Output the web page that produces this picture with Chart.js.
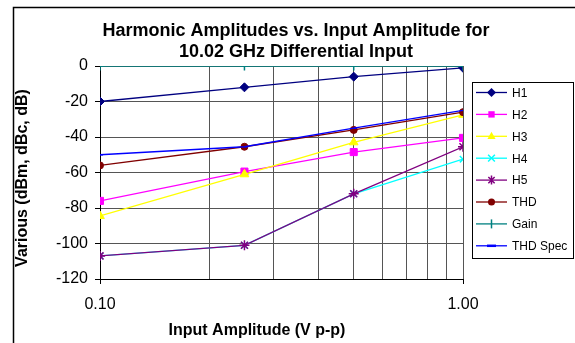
<!DOCTYPE html>
<html><head><meta charset="utf-8">
<script src="https://cdn.jsdelivr.net/npm/chart.js@4/dist/chart.umd.min.js"></script>
<style>html,body{margin:0;padding:0;background:#fff}#wrap{width:575px;height:343px}</style>
</head><body><div id="wrap"><canvas id="c" width="575" height="343"></canvas></div>
<script>
const inputAmplitude = [0.1, 0.25, 0.5, 1.0];
const h1 = [-20, -12, -6, -1];
const h2 = [-76, -59.5, -48.5, -40.5];
const h3 = [-84.5, -61, -43, -27.5];
const h4 = [-107, -101, -72, -52.5];
const h5 = [-107, -101, -72, -45.5];
const thd = [-56, -45.5, -36, -26];
const gain = [0, 0, 0, 0];
const thdSpec = [-50, -45.5, -35, -25];
const seriesNames = ['H1', 'H2', 'H3', 'H4', 'H5', 'THD', 'Gain', 'THD Spec'];
const yTickValues = [0, -20, -40, -60, -80, -100, -120];
const xGridValues = [0.1, 0.2, 0.3, 0.4, 0.5, 0.6, 0.7, 0.8, 0.9, 1.0];
const xTickLabels = {0.1: '0.10', 1: '1.00'};
const titleLines = ['Harmonic Amplitudes vs. Input Amplitude for', '10.02 GHz Differential Input'];
const xTitle = 'Input Amplitude (V p-p)';
const yTitle = 'Various (dBm, dBc, dB)';

const seriesValues = [h1, h2, h3, h4, h5, thd, gain, thdSpec];
const styles = [
  {c: '#000080', p: 'rectRot', r: 4.5},
  {c: '#FF00FF', p: 'rect', r: 5},
  {c: '#FFFF00', p: 'triangle', r: 5},
  {c: '#00FFFF', p: 'crossRot', r: 4.5},
  {c: '#800080', p: 'star', r: 5},
  {c: '#800000', p: 'circle', r: 3.5},
  {c: '#008080', p: 'cross', r: 4.5},
  {c: '#0000FF', p: 'dash', r: 3}
];

const datasets = seriesValues.map((vals, i) => ({
  label: seriesNames[i],
  data: inputAmplitude.map((x, j) => ({x: x, y: vals[j]})),
  borderColor: styles[i].c,
  backgroundColor: styles[i].c,
  pointStyle: styles[i].p,
  pointRadius: styles[i].r,
  pointBorderWidth: (styles[i].p === 'crossRot' || styles[i].p === 'star' || styles[i].p === 'cross' || styles[i].p === 'dash') ? 1.5 : 1,
  borderWidth: 1.3,
  tension: 0,
  fill: false,
  order: 20 - i
}));

function drawMarker(ctx, style, x, y, r, color) {
  ctx.save();
  ctx.fillStyle = color; ctx.strokeStyle = color; ctx.lineWidth = 1.5;
  ctx.beginPath();
  if (style === 'rectRot') { ctx.moveTo(x, y - r); ctx.lineTo(x + r, y); ctx.lineTo(x, y + r); ctx.lineTo(x - r, y); ctx.closePath(); ctx.fill(); }
  else if (style === 'rect') { const s = r * Math.SQRT1_2; ctx.rect(x - s, y - s, 2 * s, 2 * s); ctx.fill(); }
  else if (style === 'triangle') { ctx.moveTo(x, y - r); ctx.lineTo(x + r * 0.9, y + r * 0.6); ctx.lineTo(x - r * 0.9, y + r * 0.6); ctx.closePath(); ctx.fill(); }
  else if (style === 'crossRot') { const s = r * 0.75; ctx.moveTo(x - s, y - s); ctx.lineTo(x + s, y + s); ctx.moveTo(x + s, y - s); ctx.lineTo(x - s, y + s); ctx.stroke(); }
  else if (style === 'star') { const s = r * 0.7; ctx.moveTo(x - s, y - s); ctx.lineTo(x + s, y + s); ctx.moveTo(x + s, y - s); ctx.lineTo(x - s, y + s); ctx.moveTo(x, y - r); ctx.lineTo(x, y + r); ctx.stroke(); }
  else if (style === 'circle') { ctx.arc(x, y, r, 0, Math.PI * 2); ctx.fill(); }
  else if (style === 'cross') { ctx.moveTo(x, y - r); ctx.lineTo(x, y + r); ctx.stroke(); }
  else if (style === 'dash') { ctx.lineWidth = 2.5; ctx.moveTo(x - r, y); ctx.lineTo(x + r, y); ctx.stroke(); }
  ctx.restore();
}

const decor = {
  id: 'decor',
  afterDraw(chart) {
    const ctx = chart.ctx;
    ctx.save();
    // outer border
    ctx.strokeStyle = '#000'; ctx.lineWidth = 1.5;
    ctx.strokeRect(13.5, 7.5, 700, 500);
    // title
    ctx.fillStyle = '#000';
    ctx.textAlign = 'center'; ctx.textBaseline = 'middle';
    ctx.font = 'bold 18px "Liberation Sans", Arial, sans-serif';
    ctx.fillText(titleLines[0], 296, 31);
    ctx.fillText(titleLines[1], 296, 52);
    // axis titles
    ctx.font = 'bold 16px "Liberation Sans", Arial, sans-serif';
    ctx.fillText(xTitle, 257, 331);
    ctx.save();
    ctx.translate(23, 178); ctx.rotate(-Math.PI / 2);
    ctx.fillText(yTitle, 0, 0);
    ctx.restore();
    // legend
    const lx = 472, ly = 82, lw = 101, lh = 176;
    ctx.fillStyle = '#fff'; ctx.fillRect(lx, ly, lw, lh);
    ctx.strokeStyle = '#000'; ctx.lineWidth = 1;
    ctx.strokeRect(lx + 0.5, ly + 0.5, lw, lh);
    ctx.font = '12px "Liberation Sans", Arial, sans-serif';
    ctx.textAlign = 'left';
    seriesNames.forEach((name, i) => {
      const y = 92.5 + i * 21.9;
      const st = styles[i];
      ctx.strokeStyle = st.c; ctx.lineWidth = 1.3;
      ctx.beginPath(); ctx.moveTo(476, y); ctx.lineTo(507, y); ctx.stroke();
      drawMarker(ctx, st.p, 491.5, y, st.p === 'circle' ? 3.5 : 4.5, st.c);
      ctx.fillStyle = '#000';
      ctx.fillText(name, 512, y + 1);
    });
    ctx.restore();
  }
};

new Chart(document.getElementById('c'), {
  type: 'line',
  data: {datasets: datasets},
  options: {
    responsive: false,
    animation: false,
    devicePixelRatio: 1,
    layout: {padding: {left: 0, top: 66, right: 112, bottom: 34}},
    plugins: {legend: {display: false}, title: {display: false}, tooltip: {enabled: false}},
    scales: {
      x: {
        type: 'logarithmic',
        min: 0.1, max: 1.0,
        afterBuildTicks(scale) { scale.ticks = xGridValues.map(v => ({value: v})); },
        afterFit(scale) { scale.height = 30; },
        ticks: {
          autoSkip: false, maxRotation: 0, padding: 11, color: '#000',
          font: {family: '"Liberation Sans", Arial, sans-serif', size: 16},
          callback: (v) => xTickLabels[v] !== undefined ? xTickLabels[v] : ''
        },
        grid: {
          color: '#555', lineWidth: 1, tickLength: 5,
          tickColor: (c) => (c.tick && xTickLabels[c.tick.value] !== undefined) ? '#000' : 'rgba(0,0,0,0)'
        },
        border: {color: '#000', width: 1}
      },
      y: {
        min: -120, max: 0,
        afterBuildTicks(scale) { scale.ticks = yTickValues.map(v => ({value: v})); },
        afterFit(scale) { scale.width = 100; },
        ticks: {
          padding: 7, color: '#000',
          font: {family: '"Liberation Sans", Arial, sans-serif', size: 16}
        },
        grid: {color: '#555', lineWidth: 1, tickLength: 5, tickColor: '#000'},
        border: {color: '#000', width: 1}
      }
    }
  },
  plugins: [decor]
});
</script>
</body></html>
